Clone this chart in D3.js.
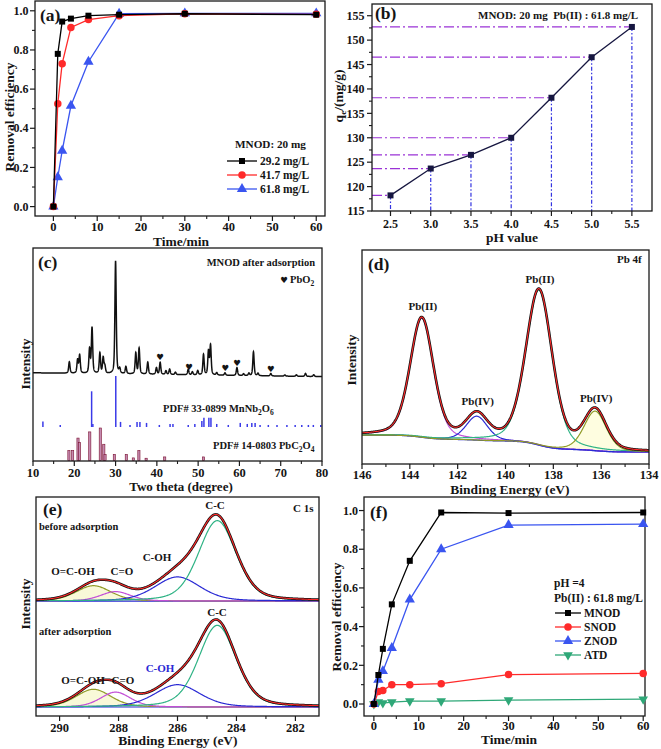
<!DOCTYPE html>
<html><head><meta charset="utf-8">
<script src="https://cdn.jsdelivr.net/npm/d3@7"></script>
<style>
body{margin:0;background:#fff;}
svg text{font-family:'Liberation Serif','Times New Roman',serif;font-weight:bold;fill:#151515;white-space:pre;}
</style></head><body>
<svg id="fig" width="661" height="749"></svg>
<script>
// ================= DATA =================
// (a) kinetics at different Pb(II) concentrations
const timeA = [0, 1, 2, 4, 8, 15, 30, 60];
const remA_292 = [0, 0.78, 0.945, 0.96, 0.975, 0.98, 0.985, 0.98];
const remA_417 = [0, 0.525, 0.73, 0.915, 0.955, 0.975, 0.985, 0.982];
const remA_618 = [0, 0.15, 0.285, 0.515, 0.74, 0.985, 0.987, 0.987];
const legendA = ["29.2 mg/L", "41.7 mg/L", "61.8 mg/L"];
const xTicksA = [0, 10, 20, 30, 40, 50, 60];
const yTicksA = [0, 0.2, 0.4, 0.6, 0.8, 1.0];

// (b) qe vs pH
const pHB = [2.5, 3.0, 3.5, 4.0, 4.5, 5.0, 5.5];
const qeB = [118.2, 123.7, 126.5, 130.0, 138.2, 146.5, 152.7];
const xTicksB = [2.5, 3.0, 3.5, 4.0, 4.5, 5.0, 5.5];
const yTicksB = [115, 120, 125, 130, 135, 140, 145, 150, 155];

// (c) XRD: observed peaks [2theta, height a.u.], baseline, reference sticks [2theta, rel. %]
const xrdBaseT = [10, 80];
const xrdBaseI = [60, 28];
const xrdPeakPos = [18.8, 20.8, 21.3, 23.7, 24.3, 26.2, 27.0, 27.4, 30.0, 31.0, 32.5, 34.9, 35.7, 37.8, 39.9, 40.8, 42.2, 43.1, 44.5, 47.6, 48.6, 49.9, 51.3, 52.5, 53.0, 54.5, 56.5, 59.4, 61.0, 62.3, 63.4, 64.5, 67.6, 71.0, 73.8, 76.0, 78.0];
const xrdPeakAmp = [95, 110, 150, 200, 380, 170, 130, 60, 940, 40, 60, 175, 215, 100, 55, 100, 30, 45, 20, 45, 25, 35, 170, 195, 245, 20, 20, 65, 15, 20, 200, 20, 20, 10, 12, 25, 15];
const pbo2Pos = [40.8, 47.8, 56.6, 59.4, 67.6];
const mnStickPos = [12.4, 16.6, 24.2, 24.5, 30.05, 31.2, 33.5, 35.2, 35.9, 37.5, 40.6, 43.2, 43.9, 47.6, 49.2, 50.9, 51.4, 52.6, 53.1, 54.5, 57.3, 60.2, 61.9, 63.0, 63.8, 65.0, 67.0, 69.1, 71.5, 73.5, 75.1, 76.7, 77.9, 79.7];
const mnStickInt = [11, 4, 70, 6, 100, 10, 4, 10, 10, 8, 4, 6, 6, 4, 6, 12, 18, 18, 18, 6, 4, 8, 6, 8, 8, 4, 4, 4, 4, 4, 4, 4, 4, 4];
const pbStickPos = [18.7, 19.6, 20.9, 21.25, 23.75, 26.3, 27.15, 27.45, 29.7, 32.6, 34.3, 35.65, 37.4, 41.9, 51.3];
const pbStickInt = [31, 31, 69, 56, 88, 100, 50, 19, 19, 19, 8, 31, 7, 11, 11];
const xTicksC = [10, 20, 30, 40, 50, 60, 70, 80];

// (d) Pb 4f XPS fit components
const pbCompName = ["Pb(II)", "Pb(IV)", "Pb(II)", "Pb(IV)"];
const pbCompE = [143.5, 141.2, 138.6, 136.25];
const pbCompAmp = [556, 112, 725, 185];
const pbCompFwhm = [1.15, 1.05, 1.3, 1.1];
const pbBgStep = [20, 7, 40, 12];
const pbBgLow = 56;
const xTicksD = [146, 144, 142, 140, 138, 136, 134];

// (e) C 1s XPS fit components
const cCompName = ["O=C-OH", "C=O", "C-OH", "C-C"];
const cCompE = [288.85, 288.1, 286.0, 284.65];
const cCompFwhm = [1.4, 1.2, 1.8, 1.5];
const cAmpBefore = [70, 43, 110, 367];
const cAmpAfter = [81, 68, 102, 373];
const cOffsetBefore = 525, cOffsetAfter = 41;
const xTicksE = [290, 288, 286, 284, 282];

// (f) adsorbent comparison
const timeF = [0, 1, 2, 4, 8, 15, 30, 60];
const remF_MNOD = [0, 0.15, 0.285, 0.515, 0.74, 0.99, 0.987, 0.99];
const remF_SNOD = [0, 0.065, 0.07, 0.10, 0.10, 0.105, 0.152, 0.158];
const remF_ZNOD = [0, 0.125, 0.17, 0.29, 0.54, 0.80, 0.925, 0.93];
const remF_ATD = [0, 0.01, 0.005, 0.01, 0.015, 0.015, 0.02, 0.025];
const legendF = ["MNOD", "SNOD", "ZNOD", "ATD"];

// ================= HELPERS =================
const svg = d3.select("#fig");
const AX = "#1a1a1a";
function frame(x0, y0, x1, y1) {
  svg.append("rect").attr("x", x0).attr("y", y0).attr("width", x1 - x0).attr("height", y1 - y0)
    .attr("fill", "none").attr("stroke", AX).attr("stroke-width", 1.3);
}
function xAxis(x, yb, majors, minors, labY, fmt, fs) {
  const g = svg.append("g");
  g.selectAll(null).data(majors).join("line").attr("x1", d => x(d)).attr("x2", d => x(d))
    .attr("y1", yb).attr("y2", yb + 5).attr("stroke", AX).attr("stroke-width", 1.2);
  g.selectAll(null).data(minors).join("line").attr("x1", d => x(d)).attr("x2", d => x(d))
    .attr("y1", yb).attr("y2", yb + 3).attr("stroke", AX).attr("stroke-width", 1.1);
  g.selectAll(null).data(majors).join("text").attr("x", d => x(d)).attr("y", labY)
    .attr("text-anchor", "middle").attr("font-size", fs).text(fmt);
}
function yAxis(y, xl, majors, minors, labX, fmt, fs) {
  const g = svg.append("g");
  g.selectAll(null).data(majors).join("line").attr("y1", d => y(d)).attr("y2", d => y(d))
    .attr("x1", xl - 5).attr("x2", xl).attr("stroke", AX).attr("stroke-width", 1.2);
  g.selectAll(null).data(minors).join("line").attr("y1", d => y(d)).attr("y2", d => y(d))
    .attr("x1", xl - 3).attr("x2", xl).attr("stroke", AX).attr("stroke-width", 1.1);
  g.selectAll(null).data(majors).join("text").attr("x", labX).attr("y", d => y(d) + 4.2)
    .attr("text-anchor", "end").attr("font-size", fs).text(fmt);
}
function txt(x, y, s, fs, anchor, fill) {
  return svg.append("text").attr("x", x).attr("y", y).attr("font-size", fs)
    .attr("text-anchor", anchor || "start").style("fill", fill || "#151515").text(s);
}
function vtxt(x, y, s, fs) {
  return svg.append("text").attr("transform", `translate(${x},${y}) rotate(-90)`)
    .attr("text-anchor", "middle").attr("font-size", fs).text(s);
}
const SYM = { sq: [d3.symbolSquare, 36, 0], ci: [d3.symbolCircle, 44, 0], up: [d3.symbolTriangle, 46, 0], dn: [d3.symbolTriangle, 40, 180] };
function series(x, y, xs, ys, color, sym) {
  const pts = xs.map((t, i) => [t, ys[i]]);
  svg.append("path").datum(pts).attr("d", d3.line().x(d => x(d[0])).y(d => y(d[1])))
    .attr("fill", "none").attr("stroke", color).attr("stroke-width", 1.3);
  const s = SYM[sym];
  svg.append("g").selectAll(null).data(pts).join("path").attr("d", d3.symbol(s[0], s[1])())
    .attr("transform", d => `translate(${x(d[0])},${y(d[1])}) rotate(${s[2]})`).attr("fill", color);
}
function legendRow(x0, x1, yRow, color, sym, label, fs) {
  svg.append("line").attr("x1", x0).attr("x2", x1).attr("y1", yRow).attr("y2", yRow)
    .attr("stroke", color).attr("stroke-width", 1.3);
  const s = SYM[sym];
  svg.append("path").attr("d", d3.symbol(s[0], s[1])())
    .attr("transform", `translate(${(x0 + x1) / 2},${yRow}) rotate(${s[2]})`).attr("fill", color);
  txt(x1 + 3, yRow + 4, label, fs);
}
function pv(E, c, amp, fwhm, eta) {
  const d = E - c, r = d * d / (fwhm * fwhm);
  return amp * (eta / (1 + 4 * r) + (1 - eta) * Math.exp(-4 * Math.LN2 * r));
}
function range(a, b, s) { return d3.range(Math.round((b - a) / s) + 1).map(i => a + i * s); }
const fmt1 = d3.format(".1f");

// ================= PANEL (a) =================
{
  const x = d3.scaleLinear().domain([-4.2, 62]).range([35, 325]);
  const y = d3.scaleLinear().domain([-0.048, 1.05]).range([216, 1]);
  frame(35, 1, 325, 216);
  xAxis(x, 216, xTicksA, [5, 15, 25, 35, 45, 55], 231, d => d, 12.5);
  yAxis(y, 35, yTicksA, [0.1, 0.3, 0.5, 0.7, 0.9], 28.5, fmt1, 12);
  series(x, y, timeA, remA_618, "#3a55f0", "up");
  series(x, y, timeA, remA_417, "#ff2a2a", "ci");
  series(x, y, timeA, remA_292, "#000", "sq");
  txt(40, 21, "(a)", 17.5);
  txt(235, 148, "MNOD: 20 mg", 11.2);
  legendRow(227, 257, 161, "#000", "sq", legendA[0], 11.5);
  legendRow(227, 257, 175, "#ff2a2a", "ci", legendA[1], 11.5);
  legendRow(227, 257, 189, "#3a55f0", "up", legendA[2], 11.5);
  txt(181, 245.5, "Time/min", 13.5, "middle");
  vtxt(14, 117, "Removal efficiency", 13.5);
}

// ================= PANEL (b) =================
{
  const x = d3.scaleLinear().domain([2.27, 5.75]).range([372, 652]);
  const y = d3.scaleLinear().domain([115, 157.4]).range([211, 4]);
  const xl = 372, yb = 211;
  pHB.forEach((p, i) => {
    svg.append("line").attr("x1", xl).attr("x2", x(p)).attr("y1", y(qeB[i])).attr("y2", y(qeB[i]))
      .attr("stroke", "#9a33d6").attr("stroke-width", 1.2).attr("stroke-dasharray", "10,3,2,3");
    svg.append("line").attr("x1", x(p)).attr("x2", x(p)).attr("y1", y(qeB[i])).attr("y2", yb)
      .attr("stroke", "#3333e0").attr("stroke-width", 1.2).attr("stroke-dasharray", "4,2,1.5,2");
  });
  frame(372, 4, 652, 211);
  xAxis(x, yb, xTicksB, [2.75, 3.25, 3.75, 4.25, 4.75, 5.25], 227.5, fmt1, 12);
  yAxis(y, xl, yTicksB, [117.5, 122.5, 127.5, 132.5, 137.5, 142.5, 147.5, 152.5], 364.5, d => d, 12);
  series(x, y, pHB, qeB, "#161640", "sq");
  txt(375, 18.5, "(b)", 17.5);
  txt(478, 18.5, "MNOD: 20 mg\u00a0\u00a0Pb(II) : 61.8 mg/L", 11);
  txt(512, 241.5, "pH value", 13.5, "middle");
  const t = svg.append("text").attr("transform", "translate(343,96) rotate(-90)")
    .attr("text-anchor", "middle").attr("font-size", 13.5);
  t.append("tspan").text("q");
  t.append("tspan").attr("dy", 3).attr("font-size", 9).text("e");
  t.append("tspan").attr("dy", -3).text("/(mg/g)");
}

// ================= PANEL (c) =================
{
  const x = d3.scaleLinear().domain([10, 80]).range([33, 322]);
  const y = d3.scaleLinear().domain([0, 1000]).range([380, 260]);
  const yMn = d3.scaleLinear().domain([0, 100]).range([427, 376]);
  const yPb = d3.scaleLinear().domain([0, 100]).range([460.5, 428]);
  const base = d3.scaleLinear().domain(xrdBaseT).range(xrdBaseI);
  const inten = t => base(t) + xrdPeakPos.reduce((s, c, i) => s + pv(t, c, xrdPeakAmp[i], 0.38, 0.5), 0);
  const tt = range(10, 80, 0.02);
  svg.append("path").datum(tt).attr("d", d3.line().x(t => x(t)).y(t => y(inten(t))))
    .attr("fill", "none").attr("stroke", "#111").attr("stroke-width", 1.5);
  svg.append("g").selectAll(null).data(mnStickPos).join("line")
    .attr("x1", d => x(d)).attr("x2", d => x(d)).attr("y1", yMn(0)).attr("y2", (d, i) => yMn(mnStickInt[i]))
    .attr("stroke", "#3a3ae8").attr("stroke-width", 1.5);
  svg.append("g").selectAll(null).data(pbStickPos).join("rect")
    .attr("x", d => x(d) - 1.1).attr("width", 2.2).attr("y", (d, i) => yPb(pbStickInt[i]))
    .attr("height", (d, i) => yPb(0) - yPb(pbStickInt[i]))
    .attr("fill", "#c58ab0").attr("stroke", "#7a1030").attr("stroke-width", 0.6);
  svg.append("g").selectAll(null).data(pbo2Pos).join("text")
    .attr("x", d => x(d)).attr("y", d => y(inten(d)) - 2).attr("text-anchor", "middle")
    .attr("font-size", 8.5).style("font-family", "DejaVu Sans").text("\u2665");
  frame(33, 248, 322, 461);
  xAxis(x, 461, xTicksC, [15, 25, 35, 45, 55, 65, 75], 476.5, d => d, 12.5);
  txt(38, 268, "(c)", 17.5);
  txt(315, 266, "MNOD after adsorption", 10.5, "end");
  svg.append("text").attr("x", 284).attr("y", 283).attr("text-anchor", "middle").attr("font-size", 8.5)
    .style("font-family", "DejaVu Sans").text("\u2665");
  const p = txt(290, 283, "PbO", 10.5);
  p.append("tspan").attr("dy", 3).attr("font-size", 7.5).text("2");
  const m = txt(163, 411.5, "PDF# 33-0899 MnNb", 10.5);
  m.append("tspan").attr("dy", 3).attr("font-size", 7.5).text("2");
  m.append("tspan").attr("dy", -3).text("O");
  m.append("tspan").attr("dy", 3).attr("font-size", 7.5).text("6");
  const q = txt(213, 449, "PDF# 14-0803 PbC", 10.5);
  q.append("tspan").attr("dy", 3).attr("font-size", 7.5).text("2");
  q.append("tspan").attr("dy", -3).text("O");
  q.append("tspan").attr("dy", 3).attr("font-size", 7.5).text("4");
  txt(181, 490.5, "Two theta (degree)", 13, "middle");
  vtxt(30, 364, "Intensity", 13.5);
}

// ================= PANEL (d) =================
{
  const x = d3.scaleLinear().domain([146, 134]).range([362, 649]);
  const y = d3.scaleLinear().domain([0, 1000]).range([464, 250]);
  const EE = range(134, 146, 0.02);
  const bg = E => pbBgLow + pbCompE.reduce((s, c, i) => s + pbBgStep[i] / (1 + Math.exp(-(E - c) / 0.35)), 0);
  const comp = (E, i) => pv(E, pbCompE[i], pbCompAmp[i], pbCompFwhm[i], 0.3);
  const env = E => bg(E) + pbCompE.reduce((s, c, i) => s + comp(E, i), 0);
  const compCol = ["#c24fd6", "#2a2ad4", "#2fb385", "#8f9a25"];
  svg.append("path").datum(EE).attr("d", d3.area().x(E => x(E)).y0(E => y(bg(E))).y1(E => y(bg(E) + comp(E, 3))))
    .attr("fill", "#fefde0").attr("stroke", "none");
  svg.append("path").datum(EE).attr("d", d3.line().x(E => x(E)).y(E => y(bg(E))))
    .attr("fill", "none").attr("stroke", "#2a2ad4").attr("stroke-width", 1.3);
  pbCompE.forEach((c, i) => {
    svg.append("path").datum(EE).attr("d", d3.line().x(E => x(E)).y(E => y(bg(E) + comp(E, i))))
      .attr("fill", "none").attr("stroke", compCol[i]).attr("stroke-width", 1.2);
  });
  svg.append("path").datum(EE).attr("d", d3.line().x(E => x(E)).y(E => y(env(E))))
    .attr("fill", "none").attr("stroke", "#111").attr("stroke-width", 2.6);
  svg.append("path").datum(EE).attr("d", d3.line().x(E => x(E)).y(E => y(env(E))))
    .attr("fill", "none").attr("stroke", "#ff2a2a").attr("stroke-width", 1.1);
  frame(362, 250, 649, 464);
  xAxis(x, 464, xTicksD, [145, 143, 141, 139, 137, 135], 479, d => d, 12.5);
  txt(368, 270, "(d)", 17.5);
  txt(617, 263, "Pb 4f", 11);
  const labY = [310, 405, 283, 402];
  pbCompE.forEach((c, i) => txt(x(c) + 1, labY[i], pbCompName[i], 11, "middle"));
  txt(510, 493.5, "Binding Energy (eV)", 13.5, "middle");
  vtxt(356, 360, "Intensity", 13.5);
}

// ================= PANEL (e) =================
{
  const x = d3.scaleLinear().domain([290.8, 281.2]).range([36, 319]);
  const y = d3.scaleLinear().domain([0, 1000]).range([716, 497]);
  const EE = range(281.2, 290.8, 0.02);
  const compCol = ["#8f9a25", "#c24fd6", "#2a2ad4", "#2fb385"];
  [[cAmpBefore, cOffsetBefore], [cAmpAfter, cOffsetAfter]].forEach(([amps, off]) => {
    const comp = (E, i) => pv(E, cCompE[i], amps[i], cCompFwhm[i], 0.3);
    const env = E => off + cCompE.reduce((s, c, i) => s + comp(E, i), 0);
    svg.append("path").datum(EE).attr("d", d3.area().x(E => x(E)).y0(y(off)).y1(E => y(off + comp(E, 0))))
      .attr("fill", "#f9f9d8").attr("stroke", "none");
    svg.append("line").attr("x1", 36).attr("x2", 319).attr("y1", y(off)).attr("y2", y(off))
      .attr("stroke", "#2a2ad4").attr("stroke-width", 1.2);
    cCompE.forEach((c, i) => {
      svg.append("path").datum(EE).attr("d", d3.line().x(E => x(E)).y(E => y(off + comp(E, i))))
        .attr("fill", "none").attr("stroke", compCol[i]).attr("stroke-width", 1.2);
    });
    svg.append("path").datum(EE).attr("d", d3.line().x(E => x(E)).y(E => y(env(E))))
      .attr("fill", "none").attr("stroke", "#111").attr("stroke-width", 2.6);
    svg.append("path").datum(EE).attr("d", d3.line().x(E => x(E)).y(E => y(env(E))))
      .attr("fill", "none").attr("stroke", "#ff2a2a").attr("stroke-width", 1.1);
  });
  frame(36, 497, 319, 716);
  xAxis(x, 716, xTicksE, [289, 287, 285, 283], 731.5, d => d, 12.5);
  txt(43, 515, "(e)", 17.5);
  txt(293, 512, "C 1s", 11);
  txt(39, 530, "before adsorption", 10.5);
  txt(39, 635, "after adsorption", 10.5);
  txt(215, 509, cCompName[3], 11, "middle");
  txt(157, 561, cCompName[2], 11, "middle");
  txt(73, 575, cCompName[0], 11, "middle");
  txt(122, 575, cCompName[1], 11, "middle");
  txt(217, 616, cCompName[3], 11, "middle");
  txt(160, 672, cCompName[2], 11, "middle", "#2a2ad4");
  txt(83, 684, cCompName[0], 11, "middle");
  txt(123, 684, cCompName[1], 11, "middle");
  txt(178, 745, "Binding Energy (eV)", 13.5, "middle");
  vtxt(30, 604, "Intensity", 13.5);
}

// ================= PANEL (f) =================
{
  const x = d3.scaleLinear().domain([-2.2, 60.4]).range([364, 645]);
  const y = d3.scaleLinear().domain([-0.062, 1.07]).range([716, 497]);
  frame(364, 497, 645, 716);
  xAxis(x, 716, xTicksA, [5, 15, 25, 35, 45, 55], 730, d => d, 12.5);
  yAxis(y, 364, yTicksA, [0.1, 0.3, 0.5, 0.7, 0.9], 358, fmt1, 12);
  series(x, y, timeF, remF_ATD, "#2fa878", "dn");
  series(x, y, timeF, remF_SNOD, "#ff2a2a", "ci");
  series(x, y, timeF, remF_ZNOD, "#3a55f0", "up");
  series(x, y, timeF, remF_MNOD, "#000", "sq");
  txt(370, 518, "(f)", 17.5);
  txt(554, 587, "pH =4", 11.5);
  txt(554, 602, "Pb(II) : 61.8 mg/L", 11.5);
  legendRow(555, 581, 613, "#000", "sq", legendF[0], 11.5);
  legendRow(555, 581, 627, "#ff2a2a", "ci", legendF[1], 11.5);
  legendRow(555, 581, 641, "#3a55f0", "up", legendF[2], 11.5);
  legendRow(555, 581, 655, "#2fa878", "dn", legendF[3], 11.5);
  txt(509, 744, "Time/min", 13.5, "middle");
  vtxt(341, 617, "Removal efficiency", 13.5);
}
</script>
</body></html>
